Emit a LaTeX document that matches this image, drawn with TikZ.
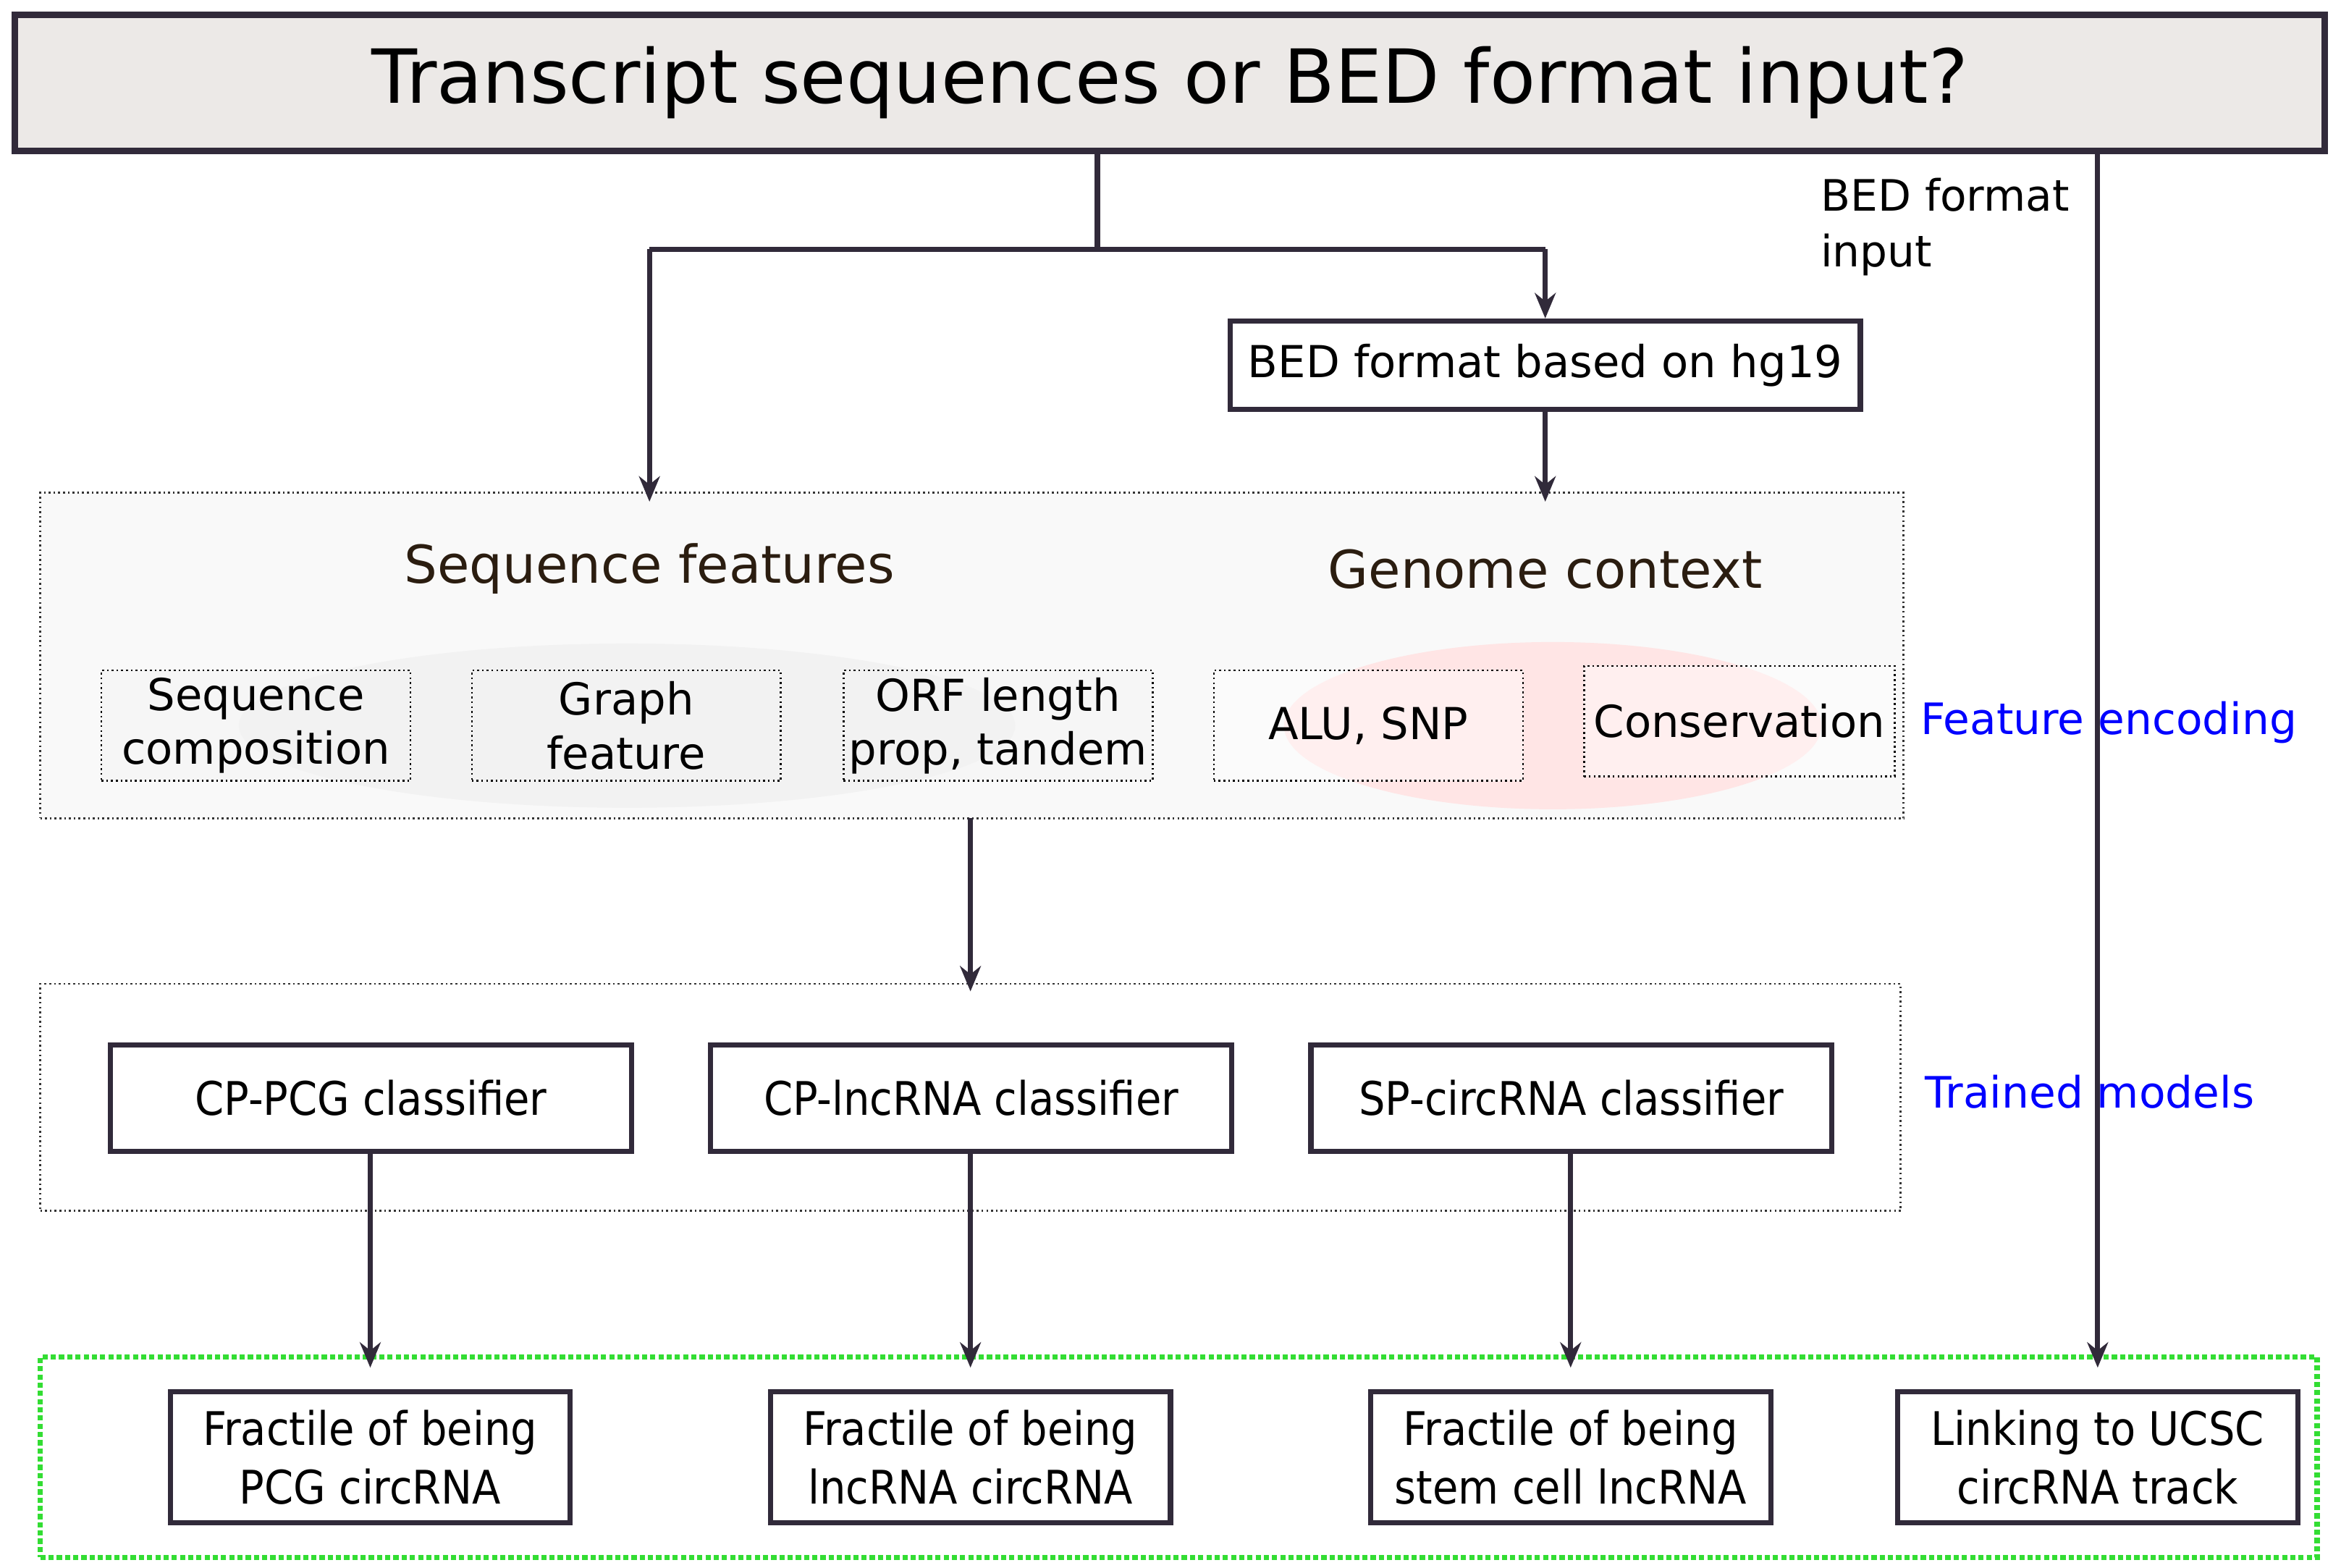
\documentclass[tikz,border=0pt]{standalone}
\usepackage{fontspec}
\setmainfont{DejaVu Sans}
\newfontfamily\cond{DejaVu Sans Condensed}
\usetikzlibrary{arrows.meta}
\definecolor{dk}{HTML}{312A3A}
\definecolor{brn}{HTML}{2B1D10}
\definecolor{grn}{HTML}{33DD33}
\tikzset{
 conn/.style={line width=3.5pt,draw=dk},
 arr/.style={conn,-{Stealth[length=17pt,width=14pt]}},
 sbox/.style={draw=black,dotted,line width=1.2pt,align=center,font=\fontsize{29.5}{36}\selectfont},
 mbox/.style={draw=dk,line width=3.5pt,fill=white,align=center,font=\cond\fontsize{31}{39}\selectfont},
 lab/.style={font=\fontsize{29}{37}\selectfont,align=left},
}
\begin{document}
\begin{tikzpicture}[x=1pt,y=-1pt]
\useasboundingbox (0,0) rectangle (1568,1050);
\node[draw=dk,line width=4.5pt,fill={rgb,255:red,236;green,233;blue,231},minimum width=1547pt,minimum height=91pt,font=\fontsize{50}{58}\selectfont] (title) at (783.5,55.5) {Transcript sequences or BED format input?};
% feature panel
\node[draw=black!80,dotted,line width=1.2pt,fill={rgb,255:red,249;green,249;blue,249},minimum width=1248pt,minimum height=218pt] (fp) at (651,439) {};
\fill[black!5] (420,486) ellipse (260 and 55);
\fill[red!10] (1040,486) ellipse (180 and 56);
\node[font=\fontsize{35}{40}\selectfont,text=brn] (sf) at (435,381) {Sequence features};
\node[font=\fontsize{35}{40}\selectfont,text=brn] (gc) at (1035,381) {Genome context};
\node[sbox,fill=black!5!white,fill opacity=0.4,text opacity=1,minimum width=207pt,minimum height=74pt] (s1) at (171.5,486) {Sequence\\composition};
\node[sbox,fill=black!5!white,fill opacity=0.4,text opacity=1,minimum width=207pt,minimum height=74pt] (s2) at (419.5,486) {Graph\\feature};
\node[sbox,fill=black!5!white,fill opacity=0.4,text opacity=1,minimum width=207pt,minimum height=74pt] (s3) at (668.5,486) {ORF length\\prop, tandem};
\node[sbox,fill=white,fill opacity=0.4,text opacity=1,minimum width=207pt,minimum height=74pt] (s4) at (916.5,486) {ALU, SNP};
\node[sbox,fill=white,fill opacity=0.4,text opacity=1,minimum width=208pt,minimum height=74pt] (s5) at (1165,483) {Conservation};
\node[lab,text=blue,anchor=west] (fe) at (1283,484) {Feature encoding};
% models panel
\node[draw=black!80,dotted,line width=1.2pt,minimum width=1246pt,minimum height=152pt] (mp) at (650,735) {};
\node[mbox,minimum width=349pt,minimum height=71pt] (m1) at (248.5,735.5) {CP-PCG classifier};
\node[mbox,minimum width=349pt,minimum height=71pt] (m2) at (650.5,735.5) {CP-lncRNA classifier};
\node[mbox,minimum width=349pt,minimum height=71pt] (m3) at (1052.5,735.5) {SP-circRNA classifier};
\node[lab,text=blue,anchor=west] (tm) at (1286,731) {Trained models};
% outputs
\node[draw=grn,dotted,line width=3.5pt,minimum width=1525pt,minimum height=134pt] (op) at (789.5,976) {};
\node[mbox,minimum width=268pt,minimum height=88pt] (o1) at (248,976) {Fractile of being\\PCG circRNA};
\node[mbox,minimum width=268pt,minimum height=88pt] (o2) at (650,976) {Fractile of being\\lncRNA circRNA};
\node[mbox,minimum width=268pt,minimum height=88pt] (o3) at (1052,976) {Fractile of being\\stem cell lncRNA};
\node[mbox,minimum width=268pt,minimum height=88pt] (o4) at (1405,976) {Linking to UCSC\\circRNA track};
% BED
\node[draw=dk,line width=3.5pt,minimum width=422pt,minimum height=59pt,font=\fontsize{29.5}{34}\selectfont] (bed) at (1035,244.5) {BED format based on hg19};
\node[lab,anchor=north west] (bl) at (1216,116) {BED format\\input};
\coordinate (j) at (735,167);
\coordinate (jl) at (435,167);
\coordinate (jr) at (1035,167);
\draw[conn] (title.south -| j) -- (j);
\draw[conn] (jl) -- (jr);
\draw[arr] (jl) -- (435,336);
\draw[arr] (jr) -- (bed.north);
\draw[arr] (bed.south) -- (1035,336);
\draw[arr] (1405,101) -- (1405,916);
\draw[arr] (650,548) -- (650,664);
\draw[arr] (248,771) -- (248,916);
\draw[arr] (650,771) -- (650,916);
\draw[arr] (1052,771) -- (1052,916);
\end{tikzpicture}
\end{document}
